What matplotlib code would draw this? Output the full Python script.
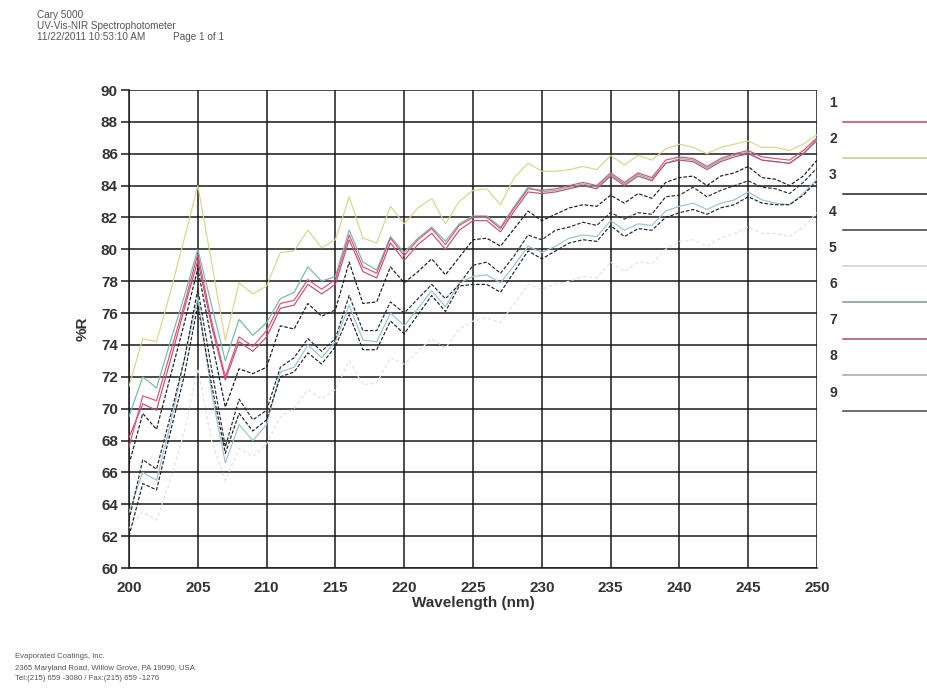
import matplotlib
matplotlib.use("Agg")
import matplotlib.pyplot as plt
from matplotlib.lines import Line2D

plt.rcParams['font.family'] = ['Liberation Sans', 'DejaVu Sans']

# Wavelength axis (nm), one reading per nm
wavelength = list(range(200, 251))

# %R readings for each sample
r1 = [67.6, 70.8, 70.5, 73.5, 76.5, 79.7, 75.5, 72.0, 74.5, 73.9, 74.9, 76.6, 76.8, 78.1, 77.5, 78.1, 80.9,
      78.9, 78.5, 80.7, 79.6, 80.6, 81.3, 80.3, 81.5, 82.0, 82.0, 81.3, 82.6, 83.8, 83.7, 83.8, 84.0, 84.2,
      84.0, 84.8, 84.2, 84.8, 84.5, 85.6, 85.8, 85.7, 85.2, 85.7, 86.0, 86.2, 85.8, 85.7, 85.6, 86.2, 87.0]
r2 = [71.4, 74.4, 74.2, 77.3, 80.6, 84.0, 79.2, 74.3, 77.9, 77.2, 77.7, 79.8, 79.9, 81.2, 80.1, 80.6, 83.3,
      80.7, 80.4, 82.7, 81.6, 82.6, 83.2, 81.6, 83.0, 83.7, 83.8, 82.8, 84.5, 85.4, 84.9, 84.9, 85.0, 85.2,
      85.0, 85.9, 85.3, 85.9, 85.6, 86.3, 86.6, 86.4, 86.0, 86.4, 86.6, 86.8, 86.4, 86.4, 86.2, 86.6, 87.2]
r3 = [66.5, 69.7, 68.7, 72.0, 75.3, 78.8, 74.3, 70.1, 72.5, 72.2, 72.6, 75.2, 75.0, 76.6, 75.8, 76.2, 79.2,
      76.6, 76.7, 78.9, 77.9, 78.6, 79.4, 78.4, 79.5, 80.6, 80.7, 80.2, 81.3, 82.4, 81.8, 82.2, 82.6, 82.8,
      82.7, 83.4, 82.9, 83.5, 83.2, 84.2, 84.5, 84.6, 84.0, 84.6, 84.8, 85.2, 84.5, 84.4, 84.0, 84.6, 85.6]
r4 = [63.0, 66.8, 66.2, 69.5, 73.0, 77.5, 72.5, 67.6, 70.6, 69.3, 69.9, 72.6, 73.2, 74.4, 73.6, 74.4, 77.1,
      74.9, 74.9, 76.7, 76.0, 76.9, 77.8, 76.9, 77.8, 79.0, 79.2, 78.5, 79.6, 80.9, 80.6, 81.2, 81.4, 81.7,
      81.5, 82.3, 81.9, 82.3, 82.2, 83.3, 83.4, 83.9, 83.3, 83.7, 84.0, 84.3, 83.9, 83.8, 83.5, 84.2, 85.1]
r5 = [62.5, 63.5, 63.0, 65.5, 68.5, 72.5, 68.0, 65.5, 67.5, 67.0, 67.8, 69.5, 70.0, 71.2, 70.6, 71.2, 73.0,
      71.5, 71.6, 73.2, 72.8, 73.6, 74.4, 73.8, 75.0, 75.5, 75.7, 75.4, 76.6, 77.8, 77.5, 77.8, 78.0, 78.3,
      78.2, 79.2, 78.6, 79.2, 79.1, 80.0, 80.5, 80.6, 80.2, 80.7, 81.0, 81.4, 81.0, 81.0, 80.8, 81.4, 82.3]
r6 = [69.5, 72.0, 71.3, 74.2, 77.0, 80.0, 76.5, 73.0, 75.6, 74.6, 75.4, 76.9, 77.3, 78.9, 78.0, 78.3, 81.2,
      79.2, 78.7, 80.8, 79.8, 80.7, 81.4, 80.5, 81.6, 82.1, 82.1, 81.4, 82.7, 83.9, 83.6, 83.7, 83.9, 84.1,
      83.9, 84.7, 84.1, 84.7, 84.4, 85.4, 85.7, 85.6, 85.1, 85.6, 85.9, 86.1, 85.6, 85.5, 85.4, 86.0, 86.8]
r7 = [68.2, 70.3, 69.9, 73.0, 76.2, 79.3, 75.2, 71.8, 74.2, 73.6, 74.5, 76.3, 76.5, 77.8, 77.2, 77.8, 80.6,
      78.6, 78.2, 80.4, 79.3, 80.3, 81.0, 80.0, 81.2, 81.8, 81.8, 81.1, 82.4, 83.6, 83.5, 83.6, 83.8, 84.0,
      83.8, 84.6, 84.0, 84.6, 84.3, 85.4, 85.6, 85.5, 85.0, 85.5, 85.8, 86.0, 85.6, 85.5, 85.4, 86.0, 86.9]
r8 = [63.5, 66.0, 65.5, 69.0, 73.0, 77.0, 71.0, 66.6, 69.0, 68.0, 69.0, 72.3, 72.6, 74.0, 73.2, 74.2, 76.5,
      74.3, 74.2, 76.0, 75.2, 76.3, 77.4, 76.4, 77.9, 78.3, 78.4, 77.9, 79.0, 80.2, 79.8, 80.2, 80.7, 80.9,
      80.8, 81.8, 81.2, 81.6, 81.5, 82.4, 82.7, 82.9, 82.5, 82.9, 83.1, 83.6, 83.1, 82.9, 82.8, 83.5, 84.4]
r9 = [62.0, 65.3, 64.9, 68.5, 72.0, 76.5, 71.5, 67.2, 69.7, 68.6, 69.3, 72.0, 72.3, 73.5, 72.8, 73.9, 75.9,
      73.7, 73.7, 75.5, 74.7, 75.9, 77.1, 76.1, 77.7, 77.8, 77.8, 77.3, 78.6, 79.9, 79.4, 79.9, 80.4, 80.6,
      80.5, 81.5, 80.8, 81.3, 81.2, 82.0, 82.3, 82.5, 82.2, 82.6, 82.8, 83.3, 82.9, 82.8, 82.8, 83.4, 84.3]

sample_labels = ['1', '2', '3', '4', '5', '6', '7', '8', '9']
x_ticks = [200, 205, 210, 215, 220, 225, 230, 235, 240, 245, 250]
y_ticks = [60, 62, 64, 66, 68, 70, 72, 74, 76, 78, 80, 82, 84, 86, 88, 90]

header_lines = ['Cary 5000', 'UV-Vis-NIR Spectrophotometer', '11/22/2011 10:53:10 AM']
page_text = 'Page 1 of 1'
footer_lines = ['Evaporated Coatings, Inc.',
                '2365 Maryland Road, Willow Grove, PA 19090, USA',
                'Tel:(215) 659 -3080 / Fax:(215) 659 -1276']

series = [r1, r2, r3, r4, r5, r6, r7, r8, r9]
plot_colors = ['#e2506e', '#d9d48e', '#1a1a1a', '#2a2a2a', '#e2e2e2',
               '#74b8b0', '#c0507a', '#98c4d6', '#222222']
legend_colors = ['#d0406a', '#c9c78e', '#202020', '#3a3a3a', '#cfcfcf',
                 '#7f9a8c', '#b0486e', '#a0a8a8', '#444444']
styles = ['-', '-', (0, (3, 1.5)), (0, (3, 1.5)), (0, (3, 2)),
          '-', '-', '-', (0, (3, 1.5))]

W, H = 927, 692
fig = plt.figure(figsize=(W / 100, H / 100), dpi=100)
fig.patch.set_facecolor('white')

left_px, right_px, top_px, bottom_px = 129, 817, 90, 568
ax = fig.add_axes([left_px / W, 1 - bottom_px / H, (right_px - left_px) / W, (bottom_px - top_px) / H])

order = [4, 7, 8, 3, 2, 5, 6, 0, 1]
for i in order:
    ax.plot(wavelength, series[i], color=plot_colors[i], linestyle=styles[i],
            linewidth=0.85, zorder=3)

ax.set_xlim(200, 250)
ax.set_ylim(60, 90)
ax.set_xticks(x_ticks)
ax.set_yticks(y_ticks)
ax.grid(True, color='#1a1a1a', linewidth=1.1, zorder=1)
ax.set_axisbelow(True)
for side in ['right', 'top']:
    ax.spines[side].set_visible(False)
for side in ['left', 'bottom']:
    ax.spines[side].set_color('#1a1a1a')
    ax.spines[side].set_linewidth(1.1)
ax.tick_params(axis='y', direction='out', length=6, width=1.1, color='#1a1a1a',
               labelsize=11, labelcolor='#333333', pad=2)
ax.tick_params(axis='x', direction='out', length=0, labelsize=11,
               labelcolor='#333333', pad=9)
for lab in ax.get_xticklabels() + ax.get_yticklabels():
    lab.set_fontweight('bold')
ax.set_xlabel('Wavelength (nm)', fontsize=11, fontweight='bold', color='#333333', labelpad=1)
ax.set_ylabel('%R', fontsize=11, fontweight='bold', color='#333333', labelpad=8)

# Legend: sample numbers with a short line sample below each
for k, lab in enumerate(sample_labels):
    ty = 103 + 36.2 * k
    ly = 122 + 36.1 * k
    fig.text(829 / W, 1 - ty / H, lab, fontsize=10, fontweight='bold',
             color='#333333', ha='left', va='center')
    fig.add_artist(Line2D([843 / W, 1.0], [1 - ly / H, 1 - ly / H],
                          color=legend_colors[k], linewidth=1.1,
                          transform=fig.transFigure))

# Header and footer
hdr_y = [15, 26, 37]
for t, yy in zip(header_lines, hdr_y):
    fig.text(37 / W, 1 - yy / H, t, fontsize=7.2, color='#555555', ha='left', va='center')
fig.text(173 / W, 1 - 37 / H, page_text, fontsize=7.2, color='#555555', ha='left', va='center')

ftr_y = [657, 668, 679]
for t, yy in zip(footer_lines, ftr_y):
    fig.text(15 / W, 1 - yy / H, t, fontsize=5.6, color='#555555', ha='left', va='center')

fig.savefig('out.png', dpi=100, facecolor='white')
